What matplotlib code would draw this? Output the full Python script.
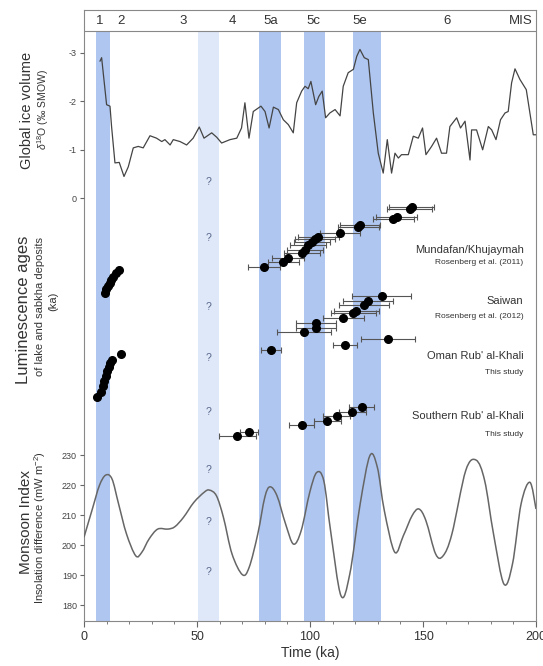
import matplotlib
matplotlib.use('Agg')
import matplotlib.pyplot as plt
from matplotlib.path import Path
from matplotlib.patches import PathPatch
import numpy as np

plt.rcParams['font.family'] = ['Liberation Sans', 'DejaVu Sans']
plt.rcParams['mathtext.fontset'] = 'custom'
plt.rcParams['mathtext.rm'] = 'Liberation Sans'
plt.rcParams['mathtext.it'] = 'Liberation Sans:italic'

# --- global ice volume (d18O, per mil SMOW) ---
ice_age = [7.1, 7.8, 8.5, 10.0, 11.5, 12.2, 13.7, 15.6, 17.7, 19.6, 21.8, 24.0, 26.2, 29.2,
           32.1, 34.4, 35.8, 38.1, 39.5, 42.5, 45.4, 48.3, 51.0, 53.1, 56.5, 58.7, 60.9, 64.6,
           67.6, 69.7, 71.2, 73.0, 74.9, 78.3, 80.1, 81.9, 83.8, 86.0, 88.2, 90.4, 92.6, 94.1,
           96.3, 97.8, 99.2, 100.4, 102.5, 103.9, 105.4, 106.9, 108.8, 111.1, 113.3, 114.7, 116.9,
           119.2, 120.7, 122.1, 124.0, 125.8, 128.0, 130.2, 132.4, 134.2, 136.1, 137.6, 139.1,
           140.5, 143.5, 145.7, 147.9, 149.8, 151.3, 153.8, 156.0, 158.2, 160.4, 161.9, 164.9,
           166.6, 168.6, 170.8, 171.5, 173.7, 176.4, 178.9, 180.4, 182.3, 184.3, 186.3, 187.7,
           189.2, 190.7, 192.9, 195.7, 198.8, 200.0]
ice_d18o = [-2.83, -2.90, -2.59, -1.93, -1.90, -1.48, -0.73, -0.74, -0.45, -0.65, -1.04, -1.07,
            -1.04, -1.29, -1.24, -1.17, -1.21, -1.10, -1.21, -1.17, -1.10, -1.24, -1.47, -1.24,
            -1.35, -1.26, -1.14, -1.21, -1.24, -1.45, -1.97, -1.24, -1.79, -1.90, -1.79, -1.45,
            -1.88, -1.83, -1.62, -1.52, -1.35, -1.97, -2.21, -2.31, -2.26, -2.41, -1.93, -2.10,
            -2.21, -1.66, -1.76, -1.83, -1.70, -2.31, -2.59, -2.66, -2.93, -3.07, -2.90, -2.86,
            -1.77, -0.93, -0.52, -1.21, -0.52, -0.93, -0.83, -0.90, -0.90, -1.28, -1.24, -1.45,
            -0.90, -1.07, -1.24, -0.93, -0.93, -1.48, -1.66, -1.45, -1.59, -0.79, -1.41, -1.41,
            -1.00, -1.48, -1.41, -1.21, -1.62, -1.76, -1.79, -2.38, -2.67, -2.45, -2.24, -1.31,
            -1.31]

# --- monsoon index (insolation difference, mW m-2) ---
mon_age = [0, 3.7, 6.8, 9.6, 12.4, 15.3, 18.8, 22.9, 25.6, 28.8, 32.6, 37.1, 40.2, 44.0, 48.6,
           53.2, 55.5, 58.6, 61.7, 65.5, 70.1, 73.1, 76.9, 80.0, 82.3, 85.4, 89.2, 92.7, 96.1,
           99.9, 103.0, 106.1, 109.1, 113.7, 117.6, 122.2, 126.5, 129.8, 132.9, 137.5, 141.3,
           145.2, 148.2, 151.3, 155.6, 158.9, 162.8, 168.9, 173.5, 177.3, 181.2, 185.8, 189.6,
           193.4, 197.3, 200.0]
mon_val = [202.6, 212.0, 219.8, 223.3, 222.0, 213.7, 203.7, 196.4, 197.6, 202.0, 205.3, 205.3,
           206.1, 209.2, 214.2, 217.6, 218.3, 216.4, 209.2, 197.0, 190.1, 192.6, 203.7, 215.9,
           219.4, 216.4, 207.0, 200.3, 204.8, 217.6, 224.2, 221.4, 204.8, 183.1, 190.3, 213.7,
           229.8, 225.9, 211.4, 197.6, 203.1, 209.8, 212.0, 208.1, 197.0, 196.4, 203.7, 224.8,
           228.3, 221.4, 203.7, 187.0, 193.7, 213.7, 220.9, 212.0]

# --- luminescence ages (ka); rank = vertical plotting order in the panel ---
mund_age = [79.6, 88.2, 90.4, 96.3, 97.8, 99.2, 100.7, 102.2, 103.7, 113.3, 121.4, 122.1,
            136.9, 138.4, 144.2, 145.0, 9.2, 9.8, 10.5, 11.4, 12.1, 12.9, 14.2, 15.6]
mund_err = [7, 7, 7, 8, 8, 8, 8, 9, 9, 9, 9, 9, 9, 9, 10, 10, 0.6, 0.6, 0.6, 0.7, 0.7, 0.7, 0.8, 0.8]
mund_rank = [68, 63, 59, 54, 51, 46, 43, 40, 38, 34, 28, 26, 20, 18, 10, 8,
             94, 90, 87, 84, 81, 78, 74, 71]

saiw_age = [97.3, 102.7, 102.7, 114.7, 119.2, 120.4, 123.9, 125.8, 131.7]
saiw_err = [12, 9, 9, 9, 10, 10, 11, 11, 13]
saiw_rank = [133, 129, 124, 119, 114, 112, 106, 102, 97]

oman_age = [82.6, 115.5, 134.6, 5.9, 7.4, 8.2, 8.9, 9.6, 10.2, 10.9, 11.6, 12.5, 16.2]
oman_err = [4.5, 5.5, 12, 0.5, 0.5, 0.5, 0.6, 0.6, 0.6, 0.6, 0.7, 0.7, 0.8]
oman_rank = [151, 146, 140, 198, 193, 187, 182, 177, 172, 168, 164, 161, 155]

south_age = [67.9, 73.0, 96.3, 107.7, 111.8, 118.8, 122.8]
south_err = [8, 4, 5.5, 6, 6, 6, 5.5]
south_rank = [237, 233, 226, 222, 217, 213, 208]

groups = [('Mundafan/Khujaymah', 'Rosenberg et al. (2011)', 51, 64),
          ('Saiwan', 'Rosenberg et al. (2012)', 102, 117),
          ("Oman Rub' al-Khali", 'This study', 157, 173),
          ("Southern Rub' al-Khali", 'This study', 217, 235)]

mis_labels = ['1', '2', '3', '4', '5a', '5c', '5e', '6', 'MIS']
mis_pos = [6.9, 16.2, 44, 65.8, 82.4, 101.5, 122.2, 160.5, 193.4]
bands = [(5.5, 11.5), (77.3, 87.2), (97.5, 106.5), (119.0, 131.5)]
light_band = (50.6, 59.8)

W, H = 543, 666
LEFT, RIGHT, TOP, BOTTOM = 84, 536, 10, 621


def box(top, bottom):
    return [LEFT / W, (H - bottom) / H, (RIGHT - LEFT) / W, (bottom - top) / H]


def smooth_path(x, y):
    # Catmull-Rom curve through the points, as cubic Bezier segments
    p = np.column_stack([x, y]).astype(float)
    p = np.vstack([p[0], p, p[-1]])
    verts = [p[1]]
    codes = [Path.MOVETO]
    for i in range(1, len(p) - 2):
        c1 = p[i] + (p[i + 1] - p[i - 1]) / 6
        c2 = p[i + 1] - (p[i + 2] - p[i]) / 6
        verts += [c1, c2, p[i + 1]]
        codes += [Path.CURVE4] * 3
    return Path(verts, codes)


fig = plt.figure(figsize=(W / 100, H / 100), dpi=100)

# frame with MIS strip and shaded bands
ax = fig.add_axes(box(TOP, BOTTOM))
ax.set_xlim(0, 200)
ax.set_ylim(0, 1)
strip = (BOTTOM - 31) / (BOTTOM - TOP)
for a, b in bands:
    ax.axvspan(a, b, ymin=0, ymax=strip, color='#afc6f0', lw=0)
ax.axvspan(*light_band, ymin=0, ymax=strip, color='#dfe8f8', lw=0)
ax.axhline(strip, color='#888888', lw=0.8)
for lab, x in zip(mis_labels, mis_pos):
    ax.text(x, (strip + 1) / 2, lab, ha='center', va='center', fontsize=9.5, color='#333333')
for s in ax.spines.values():
    s.set_color('#888888')
    s.set_linewidth(0.8)
ax.set_yticks([])
ax.set_xticks([0, 50, 100, 150, 200])
ax.set_xticks(np.arange(0, 201, 10), minor=True)
ax.tick_params(axis='x', which='both', direction='out', colors='#666666', labelcolor='#333333',
               labelsize=9)
ax.tick_params(axis='x', which='major', length=4)
ax.tick_params(axis='x', which='minor', length=2)
ax.set_xlabel('Time (ka)', fontsize=10, color='#333333', labelpad=2)

# question marks in the light band
for py in [182, 238, 307, 358, 412, 470, 522, 572]:
    ax.text(54.9, (BOTTOM - py) / (BOTTOM - TOP), '?', ha='center', va='center',
            fontsize=7.5, color='#56648a')

# ice volume panel
axi = fig.add_axes(box(31, 198.3))
axi.patch.set_alpha(0)
axi.plot(ice_age, ice_d18o, color='#444444', lw=0.9)
axi.set_xlim(0, 200)
axi.set_ylim(0, -3.45)
axi.set_yticks([-3, -2, -1, 0])
axi.set_yticklabels(['-3', '-2', '-1', '0'])
axi.set_xticks([])
for s in axi.spines.values():
    s.set_visible(False)
axi.tick_params(axis='y', direction='out', length=3, colors='#666666', labelcolor='#444444',
                labelsize=6.5, pad=2)

# luminescence panel
axl = fig.add_axes(box(199, 450))
axl.patch.set_alpha(0)
axl.set_xlim(0, 200)
axl.set_ylim(251, 0)
axl.axis('off')
for ages, errs, ranks in [(mund_age, mund_err, mund_rank), (saiw_age, saiw_err, saiw_rank),
                          (oman_age, oman_err, oman_rank), (south_age, south_err, south_rank)]:
    axl.errorbar(ages, ranks, xerr=errs, fmt='o', color='black', ms=5.5, ecolor='#555555',
                 elinewidth=0.8, capsize=2.5, capthick=0.8)
for name, ref, y1, y2 in groups:
    axl.text(194.5, y1, name, ha='right', va='center', fontsize=8, color='#333333')
    axl.text(194.5, y2, ref, ha='right', va='center', fontsize=6, color='#333333')

# monsoon panel
axm = fig.add_axes(box(440, BOTTOM))
axm.patch.set_alpha(0)
axm.add_patch(PathPatch(smooth_path(mon_age, mon_val), fill=False, edgecolor='#666666', lw=1.1))
axm.set_xlim(0, 200)
axm.set_ylim(174.67, 235)
axm.set_yticks([180, 190, 200, 210, 220, 230])
axm.set_xticks([])
for s in axm.spines.values():
    s.set_visible(False)
axm.tick_params(axis='y', direction='out', length=3, colors='#666666', labelcolor='#444444',
                labelsize=6.5, pad=2)

# y-axis titles
fig.text(27 / W, 1 - 110 / H, 'Global ice volume', rotation=90, ha='center', va='center',
         fontsize=10.5, color='#333333')
fig.text(43 / W, 1 - 110 / H, r'$\delta^{18}$O (‰ SMOW)', rotation=90, ha='center', va='center',
         fontsize=7.5, color='#333333')
fig.text(24 / W, 1 - 310 / H, 'Luminescence ages', rotation=90, ha='center', va='center',
         fontsize=12, color='#333333')
fig.text(40 / W, 1 - 306 / H, 'of lake and sabkha deposits', rotation=90, ha='center',
         va='center', fontsize=8, color='#333333')
fig.text(53 / W, 1 - 301 / H, '(ka)', rotation=90, ha='center', va='center', fontsize=8,
         color='#333333')
fig.text(26 / W, 1 - 522 / H, 'Monsoon Index', rotation=90, ha='center', va='center',
         fontsize=11, color='#333333')
fig.text(40 / W, 1 - 528 / H, r'Insolation difference (mW m$^{-2}$)', rotation=90, ha='center',
         va='center', fontsize=8, color='#333333')

fig.savefig('out.png', dpi=100)
